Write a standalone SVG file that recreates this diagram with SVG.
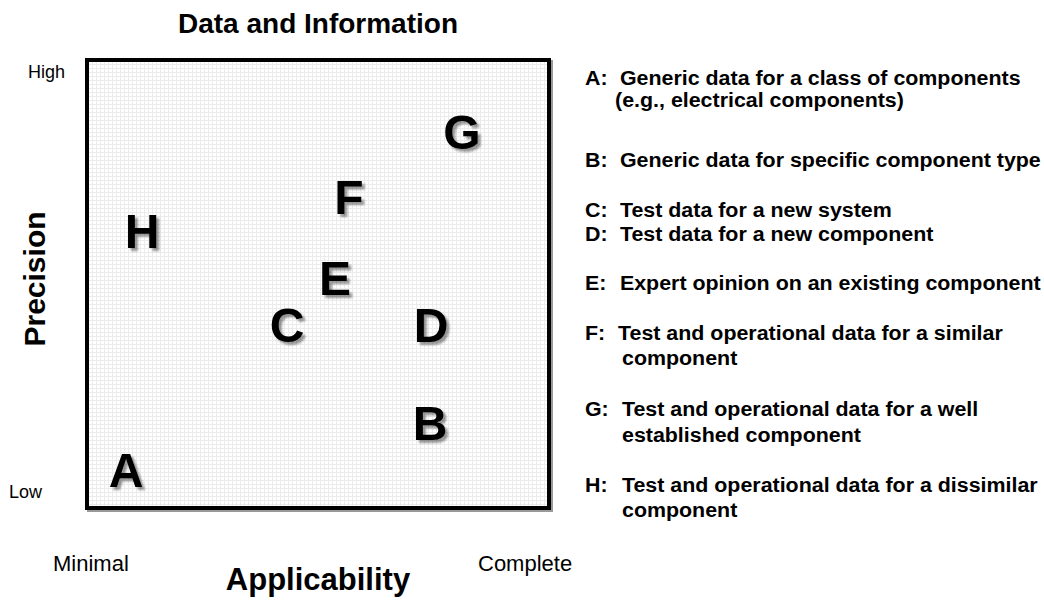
<svg xmlns="http://www.w3.org/2000/svg" width="1044" height="600" viewBox="0 0 1044 600">
<defs>
<pattern id="grid" width="4" height="4" patternUnits="userSpaceOnUse">
<rect width="4" height="4" fill="#ffffff"/>
<path d="M0 0.5H4M0.5 0V4" stroke="#ebebeb" stroke-width="1" fill="none"/>
</pattern>
<filter id="shadow" x="-20%" y="-20%" width="150%" height="150%">
<feGaussianBlur in="SourceAlpha" stdDeviation="0.8"/>
<feOffset dx="3" dy="3" result="o"/>
<feComponentTransfer in="o" result="s"><feFuncA type="linear" slope="0.4"/></feComponentTransfer>
<feMerge><feMergeNode in="s"/><feMergeNode in="SourceGraphic"/></feMerge>
</filter>
</defs>
<style>
.t{font-family:"Liberation Sans",Arial,sans-serif;fill:#000}
.big{font-size:28px;font-weight:bold}
.ax{font-size:18px}
.ax2{font-size:22px}
.pt{font-size:48px;font-weight:bold;text-anchor:middle;filter:url(#shadow)}
.lg{font-size:20px;font-weight:bold}
</style>
<rect width="1044" height="600" fill="#ffffff"/>
<g id="plot">
<rect x="89" y="62" width="462" height="448" fill="none" stroke="#999" stroke-width="4"/>
<rect x="87" y="60" width="462" height="448" fill="url(#grid)" stroke="#000" stroke-width="4"/>
</g>
<g id="titles">
<text class="t big" x="318" y="33" text-anchor="middle">Data and Information</text>
<text class="t big" x="318" y="590" text-anchor="middle" style="font-size:31px">Applicability</text>
<text class="t big" transform="translate(45,279) rotate(-90)" text-anchor="middle" style="font-size:30px">Precision</text>
<text class="t ax" x="28" y="78">High</text>
<text class="t ax" x="9" y="498">Low</text>
<text class="t ax2" x="53" y="571">Minimal</text>
<text class="t ax2" x="478" y="571">Complete</text>
</g>
<g id="node-A"><text class="t pt" x="126" y="487">A</text></g>
<g id="node-B"><text class="t pt" x="430" y="440">B</text></g>
<g id="node-C"><text class="t pt" x="287" y="342">C</text></g>
<g id="node-D"><text class="t pt" x="431" y="342">D</text></g>
<g id="node-E"><text class="t pt" x="335" y="295">E</text></g>
<g id="node-F"><text class="t pt" x="349" y="214">F</text></g>
<g id="node-G"><text class="t pt" x="462" y="149">G</text></g>
<g id="node-H"><text class="t pt" x="142" y="248">H</text></g>
<g id="connectors"></g>
<g id="legend" transform="scale(1.07,1)">
<text class="t lg" x="546.7" y="85">A:</text><text class="t lg" x="579.4" y="85">Generic data for a class of components</text>
<text class="t lg" x="574.8" y="107">(e.g., electrical components)</text>
<text class="t lg" x="546.7" y="167">B:</text><text class="t lg" x="579.4" y="167">Generic data for specific component type</text>
<text class="t lg" x="546.7" y="217">C:</text><text class="t lg" x="579.4" y="217">Test data for a new system</text>
<text class="t lg" x="546.7" y="241">D:</text><text class="t lg" x="579.4" y="241">Test data for a new component</text>
<text class="t lg" x="546.7" y="290">E:</text><text class="t lg" x="579.4" y="290">Expert opinion on an existing component</text>
<text class="t lg" x="546.7" y="340">F:</text><text class="t lg" x="577.6" y="340">Test and operational data for a similar</text>
<text class="t lg" x="581.3" y="365">component</text>
<text class="t lg" x="546.7" y="416">G:</text><text class="t lg" x="581.3" y="416">Test and operational data for a well</text>
<text class="t lg" x="581.3" y="442">established component</text>
<text class="t lg" x="546.7" y="492">H:</text><text class="t lg" x="581.3" y="492">Test and operational data for a dissimilar</text>
<text class="t lg" x="581.3" y="517">component</text>
</g>
</svg>
